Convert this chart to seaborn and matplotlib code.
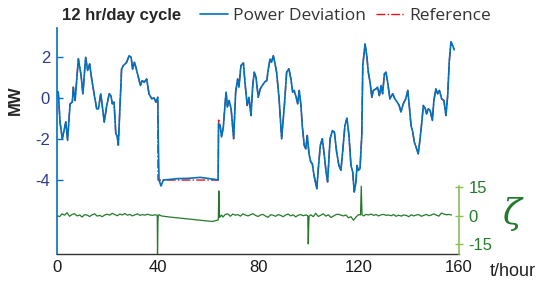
import numpy as np
import pandas as pd
import matplotlib
matplotlib.use("Agg")
import matplotlib.pyplot as plt
import seaborn as sns
from matplotlib.lines import Line2D

# power deviation (MW)
power_t = [0.0, 0.5, 1.2, 2.1, 3.5, 4.2, 5.2, 6.1, 6.5, 7.2,
           8.5, 9.6, 10.3, 11.4, 12.2, 13.0, 13.8, 14.9, 15.8, 16.5,
           17.4, 18.0, 18.8, 19.8, 20.8, 21.5, 22.0, 22.7, 23.4, 23.9,
           24.4, 25.1, 25.7, 26.4, 27.1, 27.7, 28.7, 29.5, 30.1, 30.8,
           31.4, 32.4, 33.2, 33.9, 34.7, 35.7, 36.6, 37.7, 38.6, 39.4,
           40.1, 40.3, 40.6, 41.4, 42.3, 45.0, 48.0, 52.0, 57.0, 60.0,
           63.0, 64.1, 64.3, 64.9, 65.5, 66.2, 66.9, 67.3, 67.8, 68.5,
           69.3, 70.3, 71.1, 71.9, 72.4, 73.2, 74.2, 74.8, 75.7, 76.4,
           77.2, 77.9, 78.5, 79.2, 80.1, 80.9, 81.7, 82.8, 83.5, 84.1,
           84.8, 85.4, 86.1, 86.8, 87.4, 88.4, 89.4, 90.5, 91.4, 92.3,
           93.1, 93.8, 94.4, 95.2, 95.8, 96.4, 97.1, 97.6, 98.4, 99.0,
           99.6, 100.3, 101.0, 101.6, 102.3, 103.4, 104.0, 104.8, 105.6, 106.4,
           107.1, 107.7, 108.7, 109.6, 110.4, 111.3, 112.2, 113.0, 113.8, 114.6,
           115.4, 116.2, 117.0, 117.7, 118.3, 119.0, 119.4, 119.9, 120.6, 121.3,
           121.7, 122.6, 123.3, 123.9, 124.6, 125.3, 125.9, 127.0, 127.6, 128.3,
           129.0, 129.6, 130.3, 130.9, 131.6, 132.5, 133.6, 134.5, 135.4, 136.2,
           136.9, 137.8, 138.8, 139.6, 140.2, 140.9, 141.6, 142.2, 142.9, 143.8,
           144.5, 145.2, 145.8, 146.6, 147.1, 147.8, 148.5, 149.4, 150.0, 150.8,
           151.5, 152.2, 153.1, 154.0, 154.8, 155.5, 156.1, 156.8, 157.5, 158.1]
power_mw = [0.3, 0.28, -1.17, -2.0, -1.17, -2.07, -0.3, -0.2, 0.52, -0.13,
            1.9, 1.08, 0.2, 1.97, 1.33, 1.65, 0.92, 0.1, -0.53, -0.53,
            0.2, -0.37, -1.18, -0.37, 0.2, 0.1, -0.29, -0.21, -1.75, -1.85,
            -2.3, -0.37, 1.4, 1.57, 1.65, 1.73, 2.05, 1.97, 1.4, 1.73,
            1.49, 1.0, 0.6, 0.84, 0.76, 0.92, 0.2, -0.05, 0.0, -0.21,
            0.03, -2.0, -4.0, -4.29, -4.0, -3.97, -3.93, -3.92, -3.87, -3.92,
            -3.97, -4.0, -1.26, -1.34, -1.9, -1.42, -0.29, 0.28, -0.45, -0.13,
            -0.53, -1.99, 0.28, 0.92, 0.52, 1.57, 1.7, 0.76, -0.37, 0.03,
            -0.86, 0.6, 1.25, 1.0, 0.03, 0.44, 0.6, 0.79, 0.84, 1.41,
            1.89, 1.73, 2.05, 1.65, 1.25, -0.05, -1.99, -0.37, 1.25, 1.41,
            0.92, 0.28, 0.36, 0.03, -0.29, 0.36, -0.37, -1.34, -2.31, -2.48,
            -1.83, -2.72, -3.12, -3.2, -3.77, -4.42, -3.45, -2.31, -1.99, -2.8,
            -3.61, -4.09, -1.99, -1.59, -1.67, -2.64, -3.29, -3.53, -2.48, -1.34,
            -0.99, -1.83, -3.29, -3.61, -4.58, -4.09, -3.29, -3.53, -3.45, -1.83,
            1.57, 2.62, 2.05, 1.25, 0.76, 0.03, 0.36, 0.44, 0.52, 0.11,
            0.6, 0.2, 1.17, 1.25, 0.76, -0.05, 0.2, -0.05, -0.21, -0.37,
            -0.69, -0.29, -0.05, 0.36, -0.37, -1.34, -1.67, -2.15, -2.39, -2.72,
            -1.99, -1.18, -0.37, -0.53, -0.78, -0.53, -0.61, -1.1, -0.13, 0.44,
            0.2, 0.36, -0.05, -0.13, -0.86, 0.11, 1.73, 2.73, 2.54, 2.34]

# reference: follows the power curve except a flat -4 MW block
ref_block_t = [40.2, 64.2, 64.3]
ref_block_mw = [-4.0, -4.0, -1.02]

# zeta signal
zeta_t = [0, 1, 2, 3, 4, 5, 6, 7, 8, 9,
          10, 11, 12, 13, 14, 15, 16, 17, 18, 19,
          20, 21, 22, 23, 24, 25, 26, 27, 28, 29,
          30, 31, 32, 33, 34, 35, 36, 37, 38, 39,
          39.9, 40.0, 40.2, 40.6, 41.5, 45, 50, 55, 60, 62,
          64.2, 64.4, 64.7, 65.5, 66, 67, 68, 69, 70, 71,
          72, 73, 74, 75, 76, 77, 78, 79, 80, 81,
          82, 83, 84, 85, 86, 87, 88, 89, 90, 91,
          92, 93, 94, 95, 96, 97, 98, 99, 99.8, 100.0,
          100.3, 101, 102, 103, 104, 105, 106, 107, 108, 109,
          110, 111, 112, 113, 114, 115, 116, 117, 118, 119,
          120, 120.8, 121.1, 121.4, 122, 123, 124, 125, 126, 127,
          128, 129, 130, 131, 132, 133, 134, 135, 136, 137,
          138, 139, 140, 141, 142, 143, 144, 145, 146, 147,
          148, 149, 150, 151, 152, 153, 154, 155, 156, 157]
zeta_v = [0.0, -0.6, 0.9, 0.2, 1.5, -0.4, 0.6, 1.0, -0.2, 0.3,
          -0.8, 0.5, 0.2, -0.5, 0.4, 0.9, -0.3, 0.1, -0.6, 0.3,
          0.7, 0.2, 1.2, 0.5, -0.1, 0.8, 0.3, 1.1, 0.2, 0.6,
          -0.2, 0.4, 0.9, 0.1, 0.5, 0.2, 0.7, 0.3, 0.1, 0.4,
          0.2, -21.0, -1.0, 0.5, -0.2, -0.8, -1.5, -2.2, -2.9, -3.1,
          -2.3, 13.0, -1.0, 0.3, -0.8, 0.6, 0.9, -0.4, 0.8, 0.2,
          0.5, -0.3, 0.9, 0.3, -0.2, 0.4, 1.0, 0.1, -0.5, 0.3,
          0.6, -0.3, -0.9, 0.4, 0.2, -0.4, 0.5, 0.1, -0.6, 0.3,
          0.8, -0.2, 0.4, -0.7, 0.2, 0.5, -0.1, 0.3, 0.0, -15.0,
          -0.5, 0.4, -0.6, 1.2, -0.5, 0.2, 0.9, -0.3, 0.4, -1.0,
          -0.3, 0.5, 0.7, 0.2, -0.2, 0.3, -1.2, -0.6, -2.5, -0.8,
          0.5, 0.3, 15.5, 0.4, -0.2, 0.6, 0.3, 0.8, 0.1, 0.5,
          -0.2, 0.4, 0.6, 0.1, 0.3, -0.1, 0.5, -0.4, 0.2, -0.3,
          0.3, 0.1, -0.6, 0.4, -0.2, 0.3, 0.5, -0.4, 0.1, 0.6,
          -0.1, 0.3, 0.9, 0.2, -0.3, 1.3, 0.8, 0.4, 0.6, 0.3]

x_ticks = [0, 40, 80, 120, 160]
y_ticks = [2, 0, -2, -4]
zeta_ticks = [-15, 0, 15]

blue = "#0072BD"
red = "#E8141B"
green = "#237a2a"
light_green = "#8cc152"
navy = "#2e3a8c"

power = pd.DataFrame({"t": power_t, "mw": power_mw})
before = power[power["t"] <= 40.1]
after = power[power["t"] >= 64.9]
reference = pd.concat([before, pd.DataFrame({"t": ref_block_t, "mw": ref_block_mw}), after],
                      ignore_index=True)
zeta = pd.DataFrame({"t": zeta_t, "z": zeta_v})

sns.set_style("white")
plt.rcParams["font.family"] = ["Liberation Sans", "DejaVu Sans"]
plt.rcParams["axes.unicode_minus"] = False

fig = plt.figure(figsize=(5.45, 2.84), dpi=100)
ax = fig.add_axes([0.1046, 0.1056, 0.7376, 0.7958])

sns.lineplot(data=reference, x="t", y="mw", ax=ax, color=red, lw=1.0, ls="-.",
             sort=False, estimator=None)
sns.lineplot(data=power, x="t", y="mw", ax=ax, color=blue, lw=1.2, sort=False, estimator=None)

ax.set_xlim(0, 160)
ax.set_ylim(-7.6, 3.4)
ax.set_xticks(x_ticks)
ax.set_xticks([20, 60, 100, 140], minor=True)
ax.set_yticks(y_ticks)
ax.tick_params(axis="x", which="both", direction="in", length=4, width=1, color="#333333",
               labelsize=12, labelcolor="#1a1a1a", pad=4)
ax.tick_params(axis="y", direction="in", length=4, width=1, color=blue,
               labelsize=12, labelcolor=navy, pad=5)
for s in ["top", "right"]:
    ax.spines[s].set_visible(False)
ax.spines["left"].set_color(blue)
ax.spines["left"].set_linewidth(1.2)
ax.spines["bottom"].set_color("#333333")
ax.spines["bottom"].set_linewidth(1.0)
ax.set_xlabel("")
ax.set_ylabel("MW", fontsize=12, fontweight="bold")
ax.yaxis.set_label_coords(-0.085, 0.68)

ax2 = ax.twinx()
sns.lineplot(data=zeta, x="t", y="z", ax=ax2, color=green, lw=0.9, sort=False, estimator=None)
ax2.set_ylim(-20.3, 99)
ax2.set_yticks(zeta_ticks)
ax2.set_ylabel("")
for s in ["top", "left", "bottom"]:
    ax2.spines[s].set_visible(False)
ax2.spines["right"].set_color(light_green)
ax2.spines["right"].set_linewidth(1.2)
ax2.spines["right"].set_bounds(-20.3, 15.8)
ax2.tick_params(axis="y", direction="inout", length=6, width=1, color=light_green,
                labelsize=12, labelcolor=green, pad=4)

fig.text(0.114, 0.945, "12 hr/day cycle", fontsize=12, fontweight="bold", va="center")
fig.text(0.898, 0.045, "t/hour", fontsize=13, color="#222222", va="center")
fig.text(0.922, 0.245, "\u03b6", fontsize=25, color=green, va="center", style="italic",
         family=["DejaVu Serif"])

handles = [Line2D([0], [0], color=blue, lw=1.2),
           Line2D([0], [0], color=red, lw=1.0, ls="-.")]
fig.legend(handles, ["Power Deviation", "Reference"], loc="center left",
           bbox_to_anchor=(0.338, 0.945), ncol=2, frameon=False,
           handlelength=1.6, columnspacing=0.6, handletextpad=0.3, labelcolor="#333333",
           prop={"family": ["Open Sans", "DejaVu Sans"], "size": 12.5})

fig.savefig("out.png", dpi=100)
